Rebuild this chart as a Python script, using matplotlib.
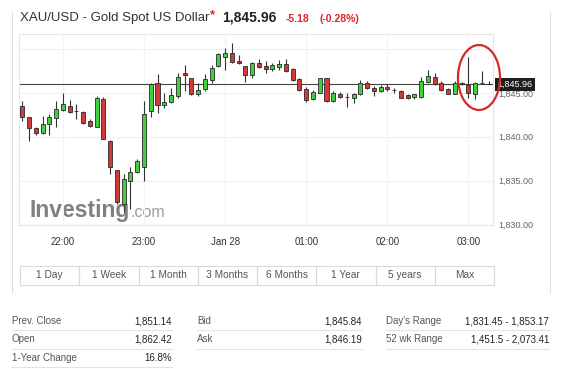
import matplotlib
matplotlib.use("Agg")
import matplotlib.pyplot as plt
import matplotlib.transforms as mtransforms
import numpy as np
import pandas as pd
from matplotlib.patches import Ellipse, Rectangle

W, H = 563, 369

# 5-minute XAU/USD bars, 21:30 -> 03:15
bar_times = pd.date_range("2021-01-27 21:30", periods=70, freq="5min")
opens = [1843.50, 1842.25, 1841.04, 1840.39, 1841.41, 1842.17, 1843.04, 1843.50, 1842.92, 1842.85,
         1841.80, 1841.15, 1844.25, 1839.52, 1836.19, 1832.30, 1835.00, 1835.96, 1836.60, 1842.93,
         1846.07, 1843.57, 1843.95, 1844.63, 1847.25, 1846.64, 1844.90, 1845.39, 1846.45, 1848.04,
         1849.10, 1849.48, 1848.61, 1848.04, 1847.02, 1848.35, 1848.04, 1847.66, 1847.97, 1848.23,
         1847.74, 1846.53, 1845.39, 1844.26, 1844.94, 1846.68, 1844.07, 1844.82, 1844.50, 1844.45,
         1844.82, 1846.15, 1845.58, 1845.20, 1845.69, 1845.35, 1845.20, 1844.71, 1844.52, 1844.56,
         1846.23, 1846.83, 1846.07, 1845.47, 1844.90, 1846.00, 1845.85, 1844.82, 1846.07, 1846.00]
highs = [1844.07, 1842.30, 1841.10, 1842.36, 1842.55, 1844.07, 1845.01, 1844.20, 1843.70, 1842.90,
         1841.98, 1844.63, 1844.56, 1839.60, 1836.25, 1835.73, 1836.60, 1837.44, 1844.07, 1846.15,
         1847.10, 1844.99, 1845.58, 1847.29, 1848.12, 1846.72, 1846.15, 1847.10, 1848.12, 1849.56,
         1850.13, 1850.69, 1849.26, 1848.10, 1848.54, 1848.88, 1848.61, 1848.42, 1848.69, 1848.88,
         1847.85, 1846.72, 1845.69, 1845.32, 1846.72, 1846.72, 1845.20, 1845.09, 1845.01, 1845.01,
         1846.45, 1846.34, 1845.77, 1845.85, 1845.96, 1845.58, 1845.32, 1844.82, 1844.90, 1846.79,
         1847.59, 1847.29, 1846.34, 1845.58, 1846.34, 1846.20, 1849.10, 1846.23, 1847.47, 1846.34]
lows = [1841.79, 1839.52, 1840.16, 1840.28, 1840.16, 1841.15, 1842.93, 1842.70, 1841.98, 1841.40,
        1841.15, 1841.15, 1839.71, 1835.73, 1832.30, 1831.45, 1831.80, 1835.90, 1834.98, 1842.29,
        1842.66, 1843.31, 1843.80, 1844.44, 1845.20, 1844.71, 1844.63, 1845.20, 1846.07, 1847.97,
        1847.59, 1848.42, 1848.23, 1846.26, 1846.64, 1847.85, 1847.29, 1847.47, 1847.59, 1847.40,
        1846.34, 1845.20, 1843.95, 1844.18, 1844.94, 1843.95, 1843.95, 1844.45, 1843.42, 1843.88,
        1844.75, 1845.47, 1844.63, 1845.09, 1845.20, 1844.94, 1844.37, 1844.33, 1844.33, 1844.45,
        1846.15, 1845.88, 1845.20, 1844.82, 1844.82, 1845.90, 1844.45, 1844.26, 1846.00, 1845.96]
closes = [1842.29, 1841.04, 1840.39, 1841.41, 1842.29, 1843.12, 1843.69, 1842.80, 1842.88, 1841.60,
          1841.20, 1844.37, 1839.79, 1836.60, 1832.51, 1835.16, 1836.00, 1837.25, 1842.55, 1845.96,
          1843.61, 1843.99, 1844.71, 1846.83, 1847.00, 1844.90, 1845.28, 1846.60, 1847.85, 1849.37,
          1849.48, 1848.54, 1848.35, 1847.02, 1848.42, 1847.97, 1847.66, 1848.12, 1848.31, 1847.47,
          1846.45, 1845.32, 1844.18, 1845.09, 1846.72, 1844.07, 1844.94, 1844.56, 1844.52, 1844.90,
          1846.07, 1845.58, 1845.20, 1845.70, 1845.39, 1845.28, 1844.45, 1844.45, 1844.82, 1846.34,
          1846.91, 1845.96, 1845.32, 1844.90, 1846.15, 1846.15, 1845.01, 1846.15, 1846.07, 1845.96]
last_price = 1845.96
price_ticks = [1830, 1835, 1840, 1845]
grid_prices = [1830, 1835, 1840, 1845, 1850]

title = "XAU/USD - Gold Spot US Dollar"
change_abs = "-5.18"
change_pct = "(-0.28%)"
range_buttons = ["1 Day", "1 Week", "1 Month", "3 Months", "6 Months", "1 Year", "5 years", "Max"]
stats_left = [("Prev. Close", "1,851.14"), ("Open", "1,862.42"), ("1-Year Change", "16.8%")]
stats_mid = [("Bid", "1,845.84"), ("Ask", "1,846.19")]
stats_right = [("Day's Range", "1,831.45 - 1,853.17"), ("52 wk Range", "1,451.5 - 2,073.41")]

plt.rcParams["font.family"] = ["Liberation Sans", "DejaVu Sans"]

UP = "#3fcf3f"
DOWN = "#d13a3a"
EDGE = "#2a2a2a"


def fx(x):
    return x / W


def fy(y):
    return 1 - y / H


fig = plt.figure(figsize=(W / 100, H / 100), dpi=100)
fig.patch.set_facecolor("white")

# outer container
for x in (12, 550):
    fig.add_artist(plt.Line2D([fx(x), fx(x)], [fy(12), fy(292)], color="#dddddd", lw=0.8))

fig.text(fx(20), fy(18), title, fontsize=9.5, color="#333333", va="center")
fig.text(fx(210), fy(15), "*", fontsize=9, color="#d9262c", va="center", fontweight="bold")
fig.text(fx(222), fy(18), f"{last_price:,.2f}", fontsize=10, color="#222222", va="center",
         fontweight="bold")
fig.text(fx(286), fy(18.5), change_abs, fontsize=7.5, color="#d9262c", va="center", fontweight="bold")
fig.text(fx(320), fy(18.5), change_pct, fontsize=7.5, color="#d9262c", va="center", fontweight="bold")

ax = fig.add_axes([fx(19), fy(224.5), fx(493) - fx(19), fy(34) - fy(224.5)])
ax.set_facecolor("white")

x = np.arange(len(bar_times))
o = np.array(opens)
h = np.array(highs)
l = np.array(lows)
c = np.array(closes)
up = c >= o

# grid
for p in grid_prices:
    ax.axhline(p, color="#efefef", lw=0.8, zorder=0)
hour_idx = [i for i, t in enumerate(bar_times) if t.minute == 0]
hour_lbl = [t.strftime("%b %d").replace(" 0", " ") if t.hour == 0 else t.strftime("%H:%M")
            for t in bar_times[hour_idx]]
for i in hour_idx:
    ax.axvline(i, color="#f2f2f2", lw=0.8, zorder=0)

# watermark
fig.text(fx(30), fy(217), "Investing", fontsize=16.5, fontweight="bold", color="#808080",
         va="baseline", zorder=0.5)
fig.text(fx(131), fy(217), ".com", fontsize=11.5, color="#9a9a9a", va="baseline", zorder=0.5)
ax.patch.set_alpha(0)
fig.axes[0].set_zorder(1)

ax.axhline(last_price, color="#444444", lw=0.8, zorder=1)

ax.vlines(x, l, h, color="#333333", lw=0.8, zorder=2)
bottoms = np.minimum(o, c)
heights = np.maximum(np.abs(c - o), 0.06)
ax.bar(x, heights, bottom=bottoms, width=0.6, color=np.where(up, UP, DOWN),
       edgecolor=EDGE, linewidth=0.6, zorder=3)

ax.set_xlim(-0.49, 69.63)
ax.set_ylim(1830, 1851.7)
ax.set_xticks(hour_idx)
ax.set_xticklabels(hour_lbl)
ax.yaxis.tick_right()
ax.set_yticks(price_ticks)
ax.set_yticklabels([f"{p:,.2f}" for p in price_ticks])
ax.tick_params(axis="x", length=0, pad=9, labelsize=7, labelcolor="#333333")
ax.tick_params(axis="y", length=0, pad=4, labelsize=6.5, labelcolor="#666666")
for side in ("left", "top", "bottom", "right"):
    ax.spines[side].set_color("#e6e6e6")
    ax.spines[side].set_linewidth(0.8)

trans = mtransforms.blended_transform_factory(ax.transAxes, ax.transData)
ax.text(1.01, last_price, f"{last_price:,.2f}", transform=trans, ha="left", va="center",
        fontsize=6.5, color="white", zorder=10, clip_on=False,
        bbox=dict(boxstyle="square,pad=0.25", fc="#1e1e1e", ec="none"))

fig.add_artist(Ellipse((fx(479), fy(77.5)), fx(42), 65 / H, transform=fig.transFigure,
                       fill=False, ec="#d42a2a", lw=1.6, zorder=20))

# period buttons
bx0, bx1, by0, by1 = 20, 494, 266, 285
bw = (bx1 - bx0) / len(range_buttons)
for k, name in enumerate(range_buttons):
    x0 = bx0 + k * bw
    fig.add_artist(Rectangle((fx(x0), fy(by1)), fx(bw), (by1 - by0) / H, transform=fig.transFigure,
                             fill=False, ec="#dadada", lw=0.8))
    fig.text(fx(x0 + bw / 2), fy((by0 + by1) / 2), name, ha="center", va="center",
             fontsize=7.3, color="#555555")


# key stats table
def stats_column(rows, lx, rx, y0=321, dy=18.5):
    for r, (label, value) in enumerate(rows):
        yy = y0 + r * dy
        fig.text(fx(lx), fy(yy), label, fontsize=7, color="#555555", va="center")
        fig.text(fx(rx), fy(yy), value, fontsize=7, color="#222222", va="center", ha="right")
        fig.add_artist(plt.Line2D([fx(lx), fx(rx)], [fy(yy + 9), fy(yy + 9)], color="#e3e3e3", lw=0.8))


stats_column(stats_left, 12, 172)
stats_column(stats_mid, 197, 362)
stats_column(stats_right, 386, 549)

fig.savefig("out.png", dpi=100)
